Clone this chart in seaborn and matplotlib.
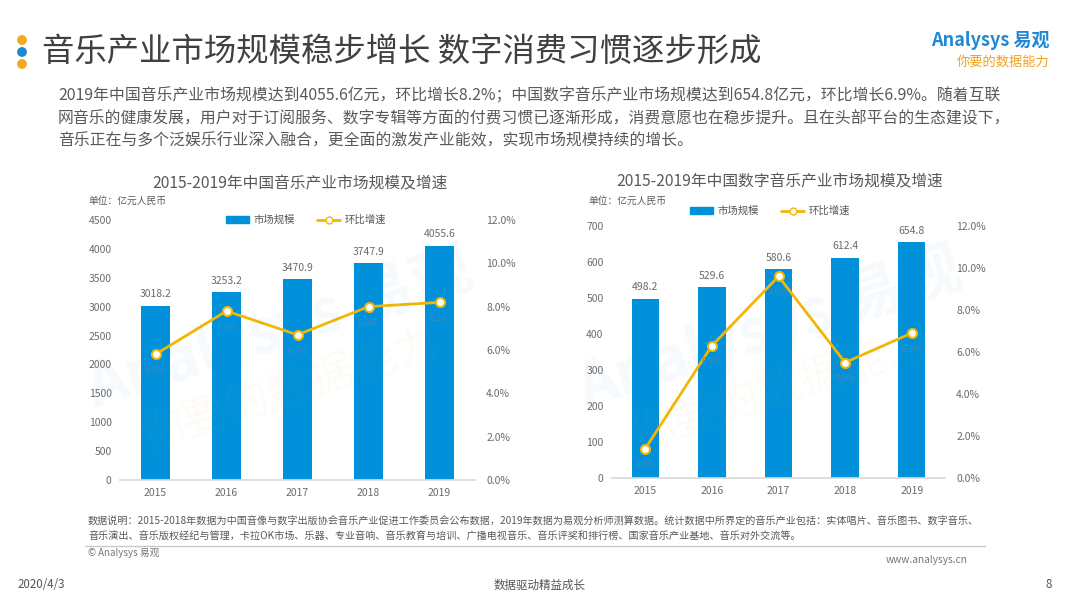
import matplotlib
matplotlib.use("Agg")
import matplotlib.pyplot as plt
import seaborn as sns
import numpy as np
import pandas as pd
from matplotlib.patches import Patch, Circle
from matplotlib.lines import Line2D
from matplotlib.ticker import FuncFormatter, MultipleLocator

# ---------------- data ----------------
years = ["2015", "2016", "2017", "2018", "2019"]
music_size = [3018.2, 3253.2, 3470.9, 3747.9, 4055.6]
music_growth = [5.8, 7.8, 6.7, 8.0, 8.2]
digital_size = [498.2, 529.6, 580.6, 612.4, 654.8]
digital_growth = [1.4, 6.3, 9.6, 5.5, 6.9]

main_title = "音乐产业市场规模稳步增长 数字消费习惯逐步形成"
para_lines = [
    "2019年中国音乐产业市场规模达到4055.6亿元，环比增长8.2%；中国数字音乐产业市场规模达到654.8亿元，环比增长6.9%。随着互联",
    "网音乐的健康发展，用户对于订阅服务、数字专辑等方面的付费习惯已逐渐形成，消费意愿也在稳步提升。且在头部平台的生态建设下，",
    "音乐正在与多个泛娱乐行业深入融合，更全面的激发产业能效，实现市场规模持续的增长。",
]
left_title = "2015-2019年中国音乐产业市场规模及增速"
right_title = "2015-2019年中国数字音乐产业市场规模及增速"
unit_label = "单位：亿元人民币"
legend_bar = "市场规模"
legend_line = "环比增速"
note_lines = [
    "数据说明：2015-2018年数据为中国音像与数字出版协会音乐产业促进工作委员会公布数据，2019年数据为易观分析师测算数据。统计数据中所界定的音乐产业包括：实体唱片、音乐图书、数字音乐、",
    "音乐演出、音乐版权经纪与管理，卡拉OK市场、乐器、专业音响、音乐教育与培训、广播电视音乐、音乐评奖和排行榜、国家音乐产业基地、音乐对外交流等。",
]

# ---------------- style ----------------
sns.set_theme(style="white")
plt.rcParams["font.family"] = ["Noto Sans CJK SC", "DejaVu Sans"]
plt.rcParams["axes.unicode_minus"] = False

BAR = "#0091DA"
GOLD = "#F2B705"
TXT = "#595959"
TICK = "#6b6b6b"

fig = plt.figure(figsize=(10.8, 6.08), dpi=100)
fig.patch.set_facecolor("white")

def px(x, y):
    return x / 1080, 1 - y / 608

axd = fig.add_axes([0, 0, 1, 1], zorder=-1)
axd.set_xlim(0, 1080); axd.set_ylim(608, 0); axd.axis("off")
for yy, c in [(40, "#F5A623"), (52, "#1E88D6"), (64, "#F5A623")]:
    axd.add_patch(Circle((22, yy), 4.2, color=c))
axd.plot([85, 985], [546, 546], color="#c8c8c8", lw=1.0)

fig.text(*px(42, 52), main_title, fontsize=23.3, color="#404040", va="center", ha="left")

# logo
fig.text(*px(1050, 40), "Analysys 易观", fontsize=13, color="#1E88D6", fontweight="bold",
         ha="right", va="center")
fig.text(*px(1050, 62), "你要的数据能力", fontsize=9.5, color="#F0A020", style="italic",
         ha="right", va="center")

for i, line in enumerate(para_lines):
    fig.text(*px(58, 96 + i * 22.5), line, fontsize=11.4, color=TXT, va="center", ha="left")

for i, line in enumerate(note_lines):
    fig.text(*px(88, 522 + i * 14), line, fontsize=7.25, color=TXT, va="center", ha="left")
fig.text(*px(88, 553), "© Analysys 易观", fontsize=7, color="#777777", va="center")
fig.text(*px(968, 560), "www.analysys.cn", fontsize=7.3, color="#777777", va="center", ha="right")
fig.text(*px(18, 585), "2020/4/3", fontsize=8.3, color="#555555", va="center", ha="left")
fig.text(*px(540, 585), "数据驱动精益成长", fontsize=8.3, color="#555555", va="center", ha="center")
fig.text(*px(1052, 585), "8", fontsize=8.3, color="#555555", va="center", ha="right")

# watermarks
for cx in [290, 780]:
    fig.text(*px(cx - 10, 330), "Analysys 易观", fontsize=44, color="#1E88D6", alpha=0.045,
             rotation=18, ha="center", va="center", fontweight="bold", zorder=10)
    fig.text(*px(cx, 390), "你要的数据能力", fontsize=32, color="#F0A020", alpha=0.04,
             rotation=18, ha="center", va="center", zorder=10)


def draw_chart(rect, sizes, growth, ymax, ystep, title, title_xy, unit_xy, legend_xy, bar_w):
    ax = fig.add_axes(rect)
    df = pd.DataFrame({"year": years, "size": sizes})
    sns.barplot(data=df, x="year", y="size", color=BAR, width=bar_w, ax=ax,
                saturation=1, edgecolor="none")
    ax.set_xlim(-0.5, 4.5)
    ax.set_ylim(0, ymax)
    ax.yaxis.set_major_locator(MultipleLocator(ystep))
    ax.set_xlabel(""); ax.set_ylabel("")
    for s in ["top", "right", "left"]:
        ax.spines[s].set_visible(False)
    ax.spines["bottom"].set_color("#d9d9d9")
    ax.tick_params(axis="both", length=0, labelsize=7.5, colors=TICK, pad=6)
    ax.patch.set_alpha(0)
    for i, v in enumerate(sizes):
        ax.text(i, v + ymax * 0.025, f"{v:.1f}", ha="center", va="bottom", fontsize=7.5, color=TICK)

    ax2 = ax.twinx()
    sns.lineplot(x=np.arange(len(years)), y=growth, ax=ax2, color=GOLD, lw=2,
                 marker="o", markersize=6.5, markerfacecolor="white",
                 markeredgecolor=GOLD, markeredgewidth=1.5, zorder=5)
    ax2.set_ylim(0, 12)
    ax2.yaxis.set_major_locator(MultipleLocator(2))
    ax2.yaxis.set_major_formatter(FuncFormatter(lambda v, p: f"{v:.1f}%"))
    for s in ["top", "right", "left", "bottom"]:
        ax2.spines[s].set_visible(False)
    ax2.tick_params(axis="y", length=0, labelsize=7.5, colors=TICK, pad=8)
    for i, g in enumerate(growth):
        ax2.text(i, g - 0.55, f"{g:.1f}%", ha="center", va="top", fontsize=6.5,
                 color="#3a8cc4", zorder=6)

    fig.text(*px(*title_xy), title, fontsize=11.3, color=TXT, ha="center", va="center")
    fig.text(*px(*unit_xy), unit_label, fontsize=7, color=TXT, ha="left", va="center")
    handles = [Patch(color=BAR, label=legend_bar),
               Line2D([0], [0], color=GOLD, lw=2, marker="o", markersize=5,
                      markerfacecolor="white", markeredgecolor=GOLD, label=legend_line)]
    fig.legend(handles=handles, loc="center", bbox_to_anchor=px(*legend_xy), ncol=2,
               frameon=False, fontsize=7.5, handlelength=2.2, columnspacing=2.2,
               labelcolor=TXT, handletextpad=0.4)
    return ax


draw_chart([120 / 1080, 1 - 480 / 608, 355 / 1080, 260 / 608], music_size, music_growth,
           4500, 500, left_title, (300, 184), (88, 201), (306, 220), 0.4)
draw_chart([612 / 1080, 1 - 478 / 608, 333 / 1080, 252 / 608], digital_size, digital_growth,
           700, 100, right_title, (780, 182), (588, 201), (770, 211), 0.41)

fig.savefig("out.png", dpi=100, facecolor="white")
